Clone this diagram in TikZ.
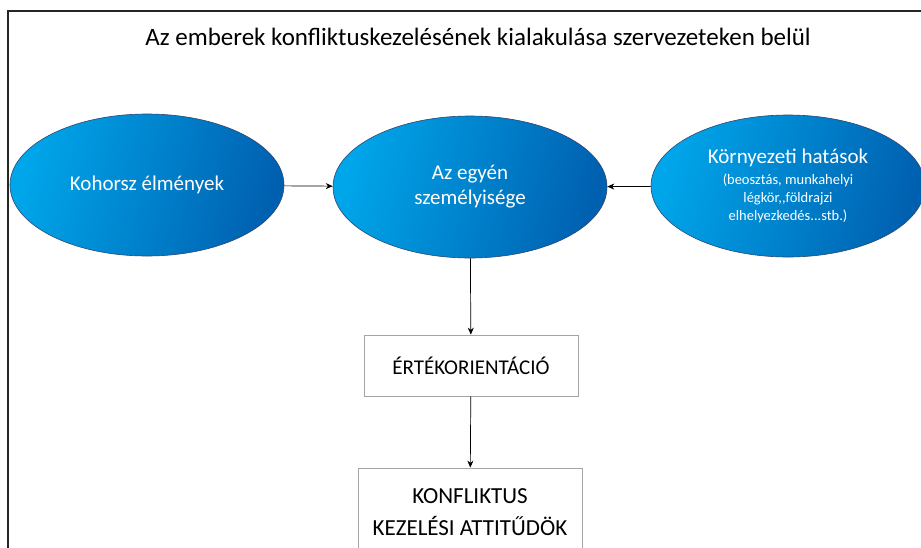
\documentclass[tikz,border=0pt]{standalone}
\usepackage{fontspec}
\setmainfont{Carlito}
\usetikzlibrary{arrows.meta,shapes.geometric,positioning}
\definecolor{ovalLight}{RGB}{0,166,234}
\definecolor{ovalDark}{RGB}{0,96,176}
\definecolor{ovalEdge}{RGB}{45,70,115}
\definecolor{boxEdge}{RGB}{165,165,165}
\newcommand\notefont{\fontsize{14.5}{15}\selectfont}

\begin{document}
\begin{tikzpicture}[x=1pt, y=-1pt, >={Stealth[length=7pt,width=6pt]},
  oval/.style={ellipse, draw=ovalEdge, line width=0.6pt,
    left color=ovalLight, right color=ovalDark, shading angle=75,
    minimum width=274pt, minimum height=142pt, inner sep=0pt,
    text=white, align=center, font=\fontsize{21}{25}\selectfont},
  box/.style={rectangle, draw=boxEdge, line width=0.8pt, fill=white,
    minimum width=214pt, align=center},
  link/.style={->, line width=0.7pt}]
\clip (0,0) rectangle (921,547);
\fill[white] (0,0) rectangle (921,547);
% frame around the page, cut off right and below
\draw[line width=2pt, black!85] (8,560) -- (8,11) -- (930,11);

\node[font=\fontsize{25}{30}\selectfont] (title) at (478,37)
  {Az emberek konfliktuskezelésének kialakulása szervezeteken belül};

\node[oval] (kohorsz) at (147,185) {Kohorsz élmények};
\node[oval] (egyen) at (470,187) {Az egyén\\személyisége};
\node[oval, font=\fontsize{21}{22}\selectfont] (kornyezet) at (788,186) {Környezeti hatások\\[-1pt]
  \notefont (beosztás, munkahelyi\\[-4pt]\notefont légkör,{},földrajzi\\[-4pt]\notefont elhelyezkedés...stb.)};

\node[box, minimum height=61pt, font=\fontsize{21}{25}\selectfont] (ertek) at (471,365.5)
  {ÉRTÉKORIENTÁCIÓ};
\node[box, minimum width=224pt, minimum height=88pt, font=\fontsize{23}{32}\selectfont] (attitud) at (470,512)
  {KONFLIKTUS\\KEZELÉSI ATTITŰDÖK};

\draw[link] (kohorsz) -- (egyen);
\draw[link] (kornyezet) -- (egyen);
\draw[link] (egyen) -- (ertek);
\draw[link] (ertek) -- (attitud);
\end{tikzpicture}
\end{document}
